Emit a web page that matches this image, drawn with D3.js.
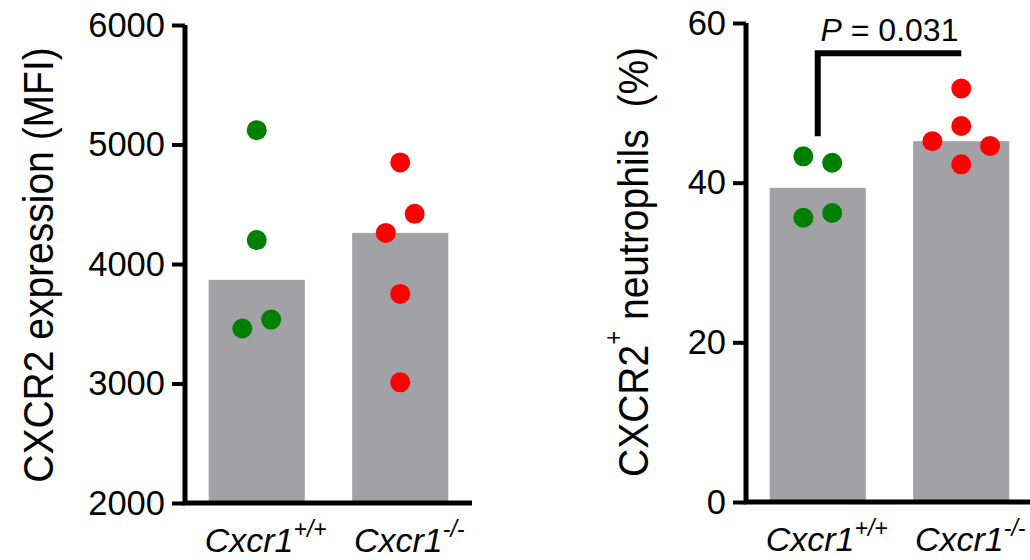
<!DOCTYPE html>
<html>
<head>
<meta charset="utf-8">
<script src="https://cdn.jsdelivr.net/npm/d3@7"></script>
<style>
  body { margin: 0; background: white; }
  svg { font-family: "Liberation Sans", Arial, sans-serif; }
</style>
</head>
<body>
<div id="chart"></div>
<script>
// genotype groups
const groups = ["wt", "ko"];
const groupNames = ["Cxcr1", "Cxcr1"];
const groupSups = ["+/+", "-/-"];

// left panel: CXCR2 expression (MFI), one value per mouse
const mfiWT = [5120, 4200, 3460, 3535];
const mfiKO = [4850, 4420, 4260, 3750, 3010];
const mfiWTLane = [0, 0, -1, 1];     // scatter column of each dot
const mfiKOLane = [0, 1, -1, 0, 0];
const mfiTicks = [2000, 3000, 4000, 5000, 6000];

// right panel: CXCR2+ neutrophils (%)
const pctWT = [43.3, 42.5, 35.6, 36.2];
const pctKO = [51.8, 47.1, 45.2, 44.6, 42.3];
const pctWTLane = [-1, 1, -1, 1];
const pctKOLane = [0, 0, -2, 2, 0];
const pctTicks = [0, 20, 40, 60];

// significance bracket
const pValue = "0.031";
const bracketTop = 56.2, bracketLeftFoot = 45.8;

const width = 1030, height = 560;
const barColor = "#a2a1a6";
const dotColors = ["#008000", "#ff0000"];

const svg = d3.select("#chart")
    .append("svg")
    .attr("width", width)
    .attr("height", height);

function panel(opts) {
    const g = svg.append("g");

    const x = d3.scaleBand()
        .domain(groups)
        .range(opts.xRange)
        .paddingInner(0.33)
        .paddingOuter(0.165);

    const y = d3.scaleLinear()
        .domain(d3.extent(opts.ticks))
        .range(opts.yRange);

    const sets = [opts.wt, opts.ko];
    const lanes = [opts.wtLane, opts.koLane];
    const laneW = x.bandwidth() * 0.15;

    // bars = median of each group
    g.selectAll("rect.bar")
        .data(groups)
        .join("rect")
        .attr("class", "bar")
        .attr("x", d => x(d))
        .attr("width", x.bandwidth())
        .attr("y", (d, i) => y(d3.median(sets[i])))
        .attr("height", (d, i) => y(y.domain()[0]) - y(d3.median(sets[i])))
        .attr("fill", barColor);

    // dots
    groups.forEach((grp, gi) => {
        const cx = x(grp) + x.bandwidth() / 2;
        g.selectAll("circle.g" + gi)
            .data(sets[gi])
            .join("circle")
            .attr("class", "g" + gi)
            .attr("cx", (d, i) => cx + lanes[gi][i] * laneW)
            .attr("cy", d => y(d))
            .attr("r", 10)
            .attr("fill", dotColors[gi]);
    });

    // y axis ticks + labels
    const yAxis = g.append("g")
        .attr("transform", `translate(${opts.xRange[0]},0)`)
        .call(d3.axisLeft(y)
            .tickValues(opts.ticks)
            .tickFormat(d3.format("d"))
            .tickSize(13).tickPadding(7).tickSizeOuter(0));
    yAxis.select(".domain").remove();
    yAxis.selectAll(".tick line").attr("stroke", "#000").attr("stroke-width", 4);
    yAxis.selectAll(".tick text")
        .attr("fill", "#000")
        .style("font-size", "34.5px")
        .style("font-family", "'Liberation Sans', Arial, sans-serif");

    // axis lines
    const x0 = opts.xRange[0];
    g.append("path")
        .attr("d", `M${x0},${y(y.domain()[1])}V${y(y.domain()[0])}H${opts.xRange[1]}`)
        .attr("fill", "none")
        .attr("stroke", "#000")
        .attr("stroke-width", 5)
        .attr("stroke-linejoin", "miter");

    // x labels
    const lab = g.selectAll("text.xlab")
        .data(groups)
        .join("text")
        .attr("class", "xlab")
        .attr("x", d => x(d) + x.bandwidth() / 2 + 9)
        .attr("y", y(y.domain()[0]) + 49)
        .attr("text-anchor", "middle")
        .style("font-size", "34px")
        .style("font-style", "italic");
    lab.append("tspan").text((d, i) => groupNames[i]);
    lab.append("tspan")
        .attr("dy", -15)
        .style("font-size", "23px")
        .text((d, i) => groupSups[i]);

    // y title
    const t = g.append("text")
        .attr("transform", `translate(${opts.titleX},${opts.titleY}) scale(1.1,1) rotate(-90)`)
        .attr("text-anchor", "middle")
        .attr("xml:space", "preserve")
        .style("font-size", opts.titleSize);
    opts.title(t);

    return {x, y, g};
}

panel({
    xRange: [185, 472], yRange: [503, 25],
    ticks: mfiTicks, wt: mfiWT, ko: mfiKO, wtLane: mfiWTLane, koLane: mfiKOLane,
    titleX: 53, titleY: 265, titleSize: "39px",
    title: t => t.text("CXCR2 expression (MFI)")
});

const right = panel({
    xRange: [746, 1033], yRange: [502, 23],
    ticks: pctTicks, wt: pctWT, ko: pctKO, wtLane: pctWTLane, koLane: pctKOLane,
    titleX: 648, titleY: 262, titleSize: "39px",
    title: t => {
        t.append("tspan").text("CXCR2");
        t.append("tspan").attr("dy", -24).style("font-size", "24px").text("+");
        t.append("tspan").attr("dy", 24).text(" neutrophils  (%)");
    }
});

// bracket with P value
const bx1 = right.x("wt") + right.x.bandwidth() / 2;
const bx2 = right.x("ko") + right.x.bandwidth() / 2;
right.g.append("path")
    .attr("d", `M${bx1},${right.y(bracketLeftFoot)}V${right.y(bracketTop)}H${bx2}`)
    .attr("fill", "none")
    .attr("stroke", "#000")
    .attr("stroke-width", 6)
    .attr("stroke-linejoin", "miter");

const pt = right.g.append("text")
    .attr("x", (bx1 + bx2) / 2)
    .attr("y", right.y(bracketTop) - 12)
    .attr("text-anchor", "middle")
    .attr("xml:space", "preserve")
    .style("font-size", "32px");
pt.append("tspan").style("font-style", "italic").text("P");
pt.append("tspan").text(" = " + pValue);
</script>
</body>
</html>
